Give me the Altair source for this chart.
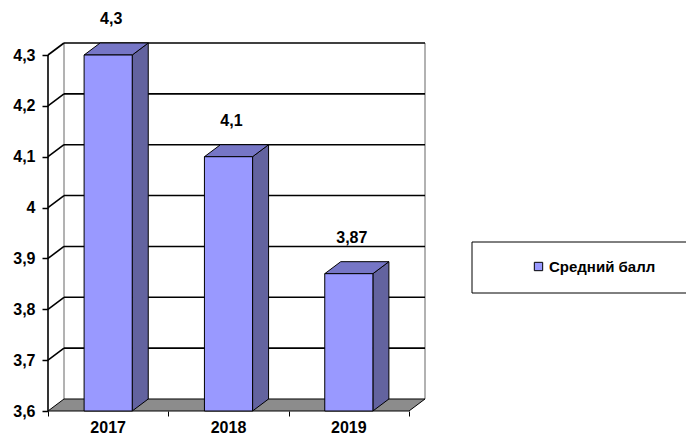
import altair as alt
import pandas as pd

# ---- data ----
years = ["2017", "2018", "2019"]
values = [4.3, 4.1, 3.87]
tick_values = [3.6, 3.7, 3.8, 3.9, 4.0, 4.1, 4.2, 4.3]
series_name = "Средний балл"

# ---- 3D geometry constants (styles) ----
Y0 = 3.6
YMAX = 4.3
D = 0.133      # depth offset in x units
E = 0.0236     # depth offset in y units
HW = 0.2       # half bar width in x units
W, H = 377, 368
FONT = "Liberation Sans"

xs = alt.Scale(domain=[0, len(years) + D], nice=False, zero=False)
ys = alt.Scale(domain=[Y0, YMAX + E], nice=False, zero=False)

bars = pd.DataFrame({"year": years, "value": values})
bars["c"] = [i + 0.5 for i in range(len(years))]
bars["x0"] = bars["c"] - HW
bars["x1"] = bars["c"] + HW
bars["base"] = Y0
bars["label"] = [str(v).replace(".", ",") for v in values]
bars["series"] = series_name

side_rows, top_rows = [], []
for _, r in bars.iterrows():
    side_rows.append({"year": r.year, "x": r.x1, "lo": Y0, "hi": r.value})
    side_rows.append({"year": r.year, "x": r.x1 + D, "lo": Y0 + E, "hi": r.value + E})
    top_rows.append({"year": r.year, "y": r.value, "xa": r.x0, "xb": r.x1})
    top_rows.append({"year": r.year, "y": r.value + E, "xa": r.x0 + D, "xb": r.x1 + D})
side = pd.DataFrame(side_rows)
top = pd.DataFrame(top_rows)

n = len(years)
floor = pd.DataFrame({"k": ["f", "f"], "y": [Y0, Y0 + E], "xa": [0, D], "xb": [n, n + D]})
grid = pd.DataFrame({"t": tick_values[1:]})
grid["tb"] = grid["t"] + E
grid["xa"] = 0.0
grid["xd"] = D
grid["xe"] = n + D
edges = pd.DataFrame({"x": [D, n + D], "ya": [Y0 + E] * 2, "yb": [YMAX + E] * 2})
front_axis = pd.DataFrame({"x": [0.0], "ya": [Y0], "yb": [YMAX]})

label_expr = "replace(format(datum.value, '.2~f'), '.', ',')"

# axis carrier (invisible)
axis_layer = alt.Chart(pd.DataFrame({"t": tick_values})).mark_point(opacity=0).encode(
    x=alt.X("xa:Q", scale=xs, axis=alt.Axis(values=[0, 1, 2, 3], labels=False, domain=False,
                                             grid=False, tickSize=5, tickColor="black",
                                             tickWidth=1, title=None)),
    y=alt.Y("t:Q", scale=ys, axis=alt.Axis(values=tick_values, labelExpr=label_expr, domain=False,
                                          grid=False, tickSize=6, tickColor="black", tickWidth=1.5,
                                          labelFont=FONT, labelFontSize=16, labelFontWeight="bold",
                                          labelColor="black", labelPadding=7, title=None)),
).transform_calculate(xa="0")

# legend frame (decoration, extends past the right edge like the reference)
legend_box = alt.Chart(pd.DataFrame({"k": [0]})).mark_rect(
    fill="white", stroke="black", strokeWidth=1
).encode(x=alt.value(424), x2=alt.value(720), y=alt.value(199), y2=alt.value(250))

wall_edges = alt.Chart(edges).mark_rule(color="#999999", strokeWidth=1.5).encode(
    x=alt.X("x:Q", scale=xs), y=alt.Y("ya:Q", scale=ys), y2="yb:Q")

back_grid = alt.Chart(grid).mark_rule(color="black", strokeWidth=1.6).encode(
    x=alt.X("xd:Q", scale=xs), x2="xe:Q", y=alt.Y("tb:Q", scale=ys))

left_grid = alt.Chart(grid).mark_rule(color="black", strokeWidth=1.6).encode(
    x=alt.X("xa:Q", scale=xs), x2="xd:Q", y=alt.Y("t:Q", scale=ys), y2="tb:Q")

floor_layer = alt.Chart(floor).mark_area(orient="horizontal", color="#8c8c8c",
                                         stroke="black", strokeWidth=1).encode(
    y=alt.Y("y:Q", scale=ys), x=alt.X("xa:Q", scale=xs), x2="xb:Q", detail="k:N")

side_layer = alt.Chart(side).mark_area(color="#63639f", stroke="black", strokeWidth=1).encode(
    x=alt.X("x:Q", scale=xs), y=alt.Y("lo:Q", scale=ys), y2="hi:Q", detail="year:N")

top_layer = alt.Chart(top).mark_area(orient="horizontal", color="#7676c6",
                                     stroke="black", strokeWidth=1).encode(
    y=alt.Y("y:Q", scale=ys), x=alt.X("xa:Q", scale=xs), x2="xb:Q", detail="year:N")

front_layer = alt.Chart(bars).mark_rect(stroke="black", strokeWidth=1).encode(
    x=alt.X("x0:Q", scale=xs), x2="x1:Q",
    y=alt.Y("base:Q", scale=ys), y2="value:Q",
    color=alt.Color("series:N", scale=alt.Scale(range=["#9999ff"]),
                    legend=alt.Legend(title=None, orient="none", legendX=483, legendY=216,
                                      padding=0, symbolType="square", symbolSize=70,
                                      symbolStrokeColor="black", symbolStrokeWidth=1,
                                      labelOffset=3,
                                      labelFont=FONT, labelFontSize=15, labelFontWeight="bold",
                                      labelColor="black")),
)

axis_line = alt.Chart(front_axis).mark_rule(color="black", strokeWidth=1.6).encode(
    x=alt.X("x:Q", scale=xs), y=alt.Y("ya:Q", scale=ys), y2="yb:Q")

value_labels = alt.Chart(bars).mark_text(dy=-36, dx=3, font=FONT, fontSize=16,
                                         fontWeight="bold", color="black").encode(
    x=alt.X("c:Q", scale=xs), y=alt.Y("value:Q", scale=ys), text="label:N")

year_labels = alt.Chart(bars).mark_text(dy=17, font=FONT, fontSize=16,
                                        fontWeight="bold", color="black").encode(
    x=alt.X("c:Q", scale=xs), y=alt.Y("base:Q", scale=ys), text="year:N")

chart = alt.layer(
    axis_layer, legend_box, wall_edges, back_grid, left_grid, floor_layer,
    side_layer, top_layer, front_layer, axis_line, value_labels, year_labels,
).properties(
    width=W, height=H,
    autosize=alt.AutoSizeParams(type="none"),
    padding={"left": 40, "top": 35, "right": 261, "bottom": 26},
).configure_view(stroke=None)

chart.save("out.html", embed_options={"renderer": "svg", "actions": False})
